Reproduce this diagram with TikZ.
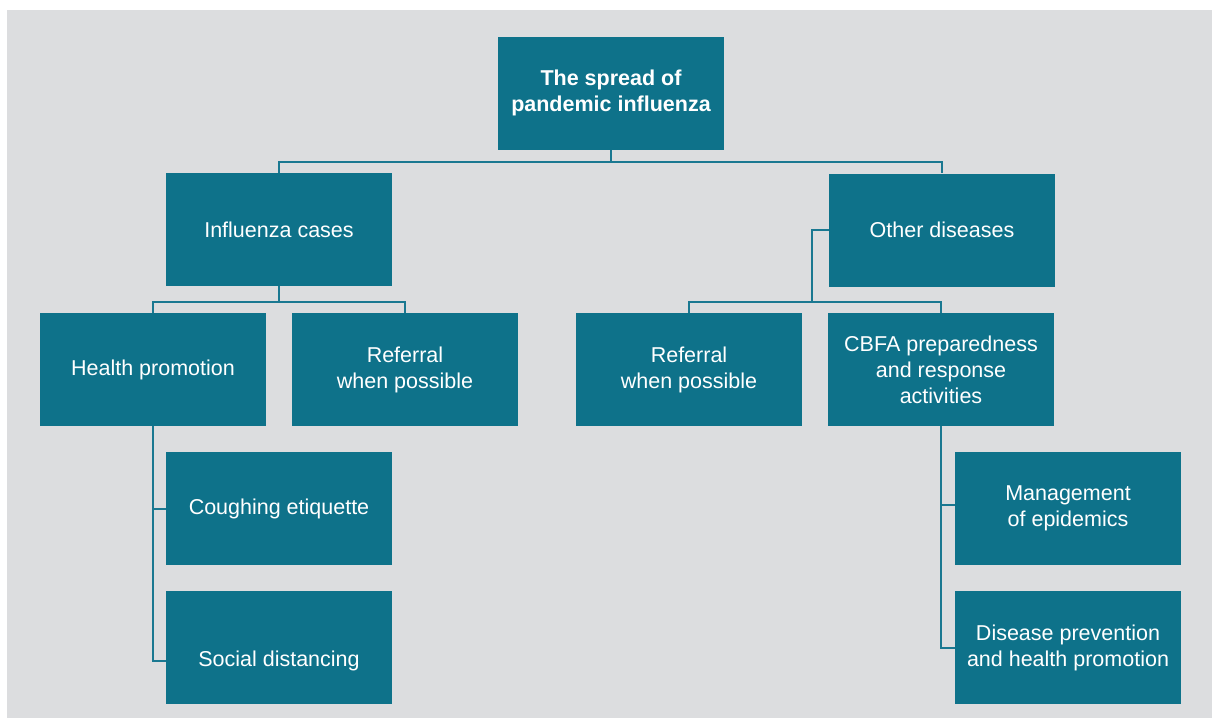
\documentclass[tikz,border=0pt]{standalone}
\usepackage{fontspec}
\setmainfont{Liberation Sans}
\definecolor{teal}{HTML}{0E728A}
\definecolor{bggray}{HTML}{DCDDDF}
\definecolor{linec}{HTML}{1A7891}
\begin{document}
\begin{tikzpicture}[x=1pt,y=-1pt,
  box/.style={fill=teal, draw=none, minimum width=226pt, minimum height=113pt, inner sep=0pt,
    text=white, align=center, font=\fontsize{21.5}{26}\selectfont},
  txt/.style={text=white, align=center, inner sep=0pt, font=\fontsize{21.5}{26}\selectfont},
  conn/.style={draw=linec, line width=2pt}]
\useasboundingbox (0,0) rectangle (1212,718);
\fill[bggray] (7,10) rectangle (1212,718);
\node[box, font=\fontsize{21.5}{26}\selectfont\bfseries] (top) at (611,93) {The spread of\\pandemic influenza};
\node[box] (inf) at (279,229.5) {Influenza cases};
\node[box] (oth) at (942,230) {Other diseases};
\node[box] (hp) at (153,369.5) {Health promotion};
\node[box] (refL) at (405,369.5) {Referral\\when possible};
\node[box] (refR) at (689,369.5) {Referral\\when possible};
\node[box] (cbfa) at (941,369.5) {CBFA preparedness\\and response\\activities};
\node[box] (cough) at (279,508.5) {Coughing etiquette};
\node[box] (social) at (279,647.5) {};
\node[txt] (socialtxt) at (279,661) {Social distancing};
\node[box] (mgmt) at (1068,508.5) {Management\\of epidemics};
\node[box] (dis) at (1068,647.5) {Disease prevention\\and health promotion};
\coordinate (ob) at (812,302);
\draw[conn] (top.south) -- ++(0,12) -| (inf.north);
\draw[conn] (top.south) -- ++(0,12) -| (oth.north);
\draw[conn] (inf.south) -- ++(0,16) -| (hp.north);
\draw[conn] (inf.south) -- ++(0,16) -| (refL.north);
\draw[conn] (oth.west) -| (ob) -| (refR.north);
\draw[conn] (ob) -| (cbfa.north);
\draw[conn] (hp.south) |- (cough.west);
\draw[conn] (hp.south) |- ([yshift=-13.5pt]social.west);
\draw[conn] (cbfa.south) |- ([yshift=3.5pt]mgmt.west);
\draw[conn] (cbfa.south) |- (dis.west);
\end{tikzpicture}
\end{document}
